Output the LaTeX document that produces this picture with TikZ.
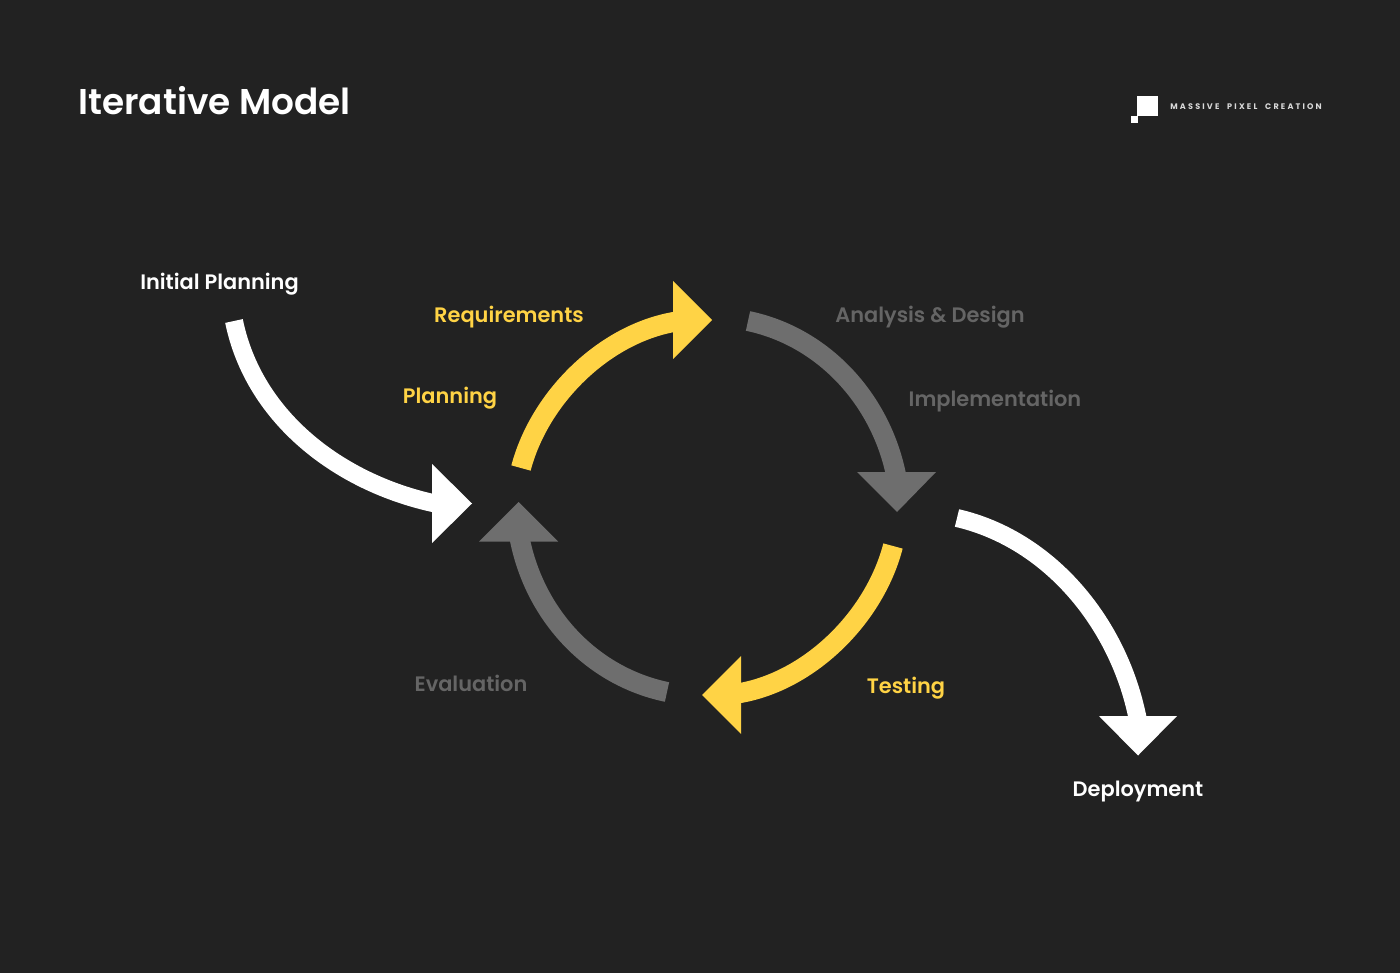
\documentclass[tikz,border=0pt]{standalone}
\usepackage{fontspec}
\setmainfont{Poppins SemiBold}
\newfontfamily\logofont[LetterSpace=27,WordSpace=2]{Poppins Bold}
\usepackage{xcolor}
\definecolor{bgdark}{HTML}{222222}
\definecolor{stepyellow}{HTML}{FFD345}
\definecolor{stepgray}{HTML}{6E6E6E}
\definecolor{labelgray}{HTML}{656565}
\tikzset{
    shaft/.style={line width=0.4cm},
    whiteshaft/.style={line width=0.36cm, white},
    label/.style={inner sep=0pt, font=\fontsize{11.9}{14}\selectfont},
}

\begin{document}
\begin{tikzpicture}[x=0.02cm, y=-0.02cm]

        % 1. background
        \fill[bgdark] (0,0) rectangle (1400,973);

        % 2. title and logo
        \node[inner sep=0pt, white, font=\fontsize{20.4}{24}\selectfont] (title) at (214.5,100.7) {Iterative Model};
        \fill[white] (1137,96) rectangle (1158,116);
        \fill[white] (1131,116) rectangle (1138,123);
        \node[inner sep=0pt, anchor=west, white!85!black, font=\fontsize{4.6}{6}\logofont] (logo) at (1170,106.7) {MASSIVE PIXEL CREATION};

        % 3. end points of the arrows
        \coordinate (A_start) at (234,321);   \coordinate (A_end) at (440,504.5);
        \coordinate (B_start) at (521,468);   \coordinate (B_end) at (680,321);
        \coordinate (C_start) at (748,321);   \coordinate (C_end) at (897,480);
        \coordinate (D_start) at (893,546);   \coordinate (D_end) at (734,694);
        \coordinate (E_start) at (667,692);   \coordinate (E_end) at (519,535);
        \coordinate (F_start) at (957,518);   \coordinate (F_end) at (1138.5,723);

        % 4. white arrows
        \draw[whiteshaft] (A_start) .. controls (254,419) and (342,485) .. (A_end);
        \fill[white] (432,464) -- (472,503.5) -- (432,543) -- cycle;
        \draw[whiteshaft] (F_start) .. controls (1052,540) and (1121,627) .. (F_end);
        \fill[white] (1099,716) -- (1177,716) -- (1138,755.5) -- cycle;

        % 5. yellow arrows
        \draw[shaft, stepyellow] (B_start) .. controls (540,396) and (607,331) .. (B_end);
        \fill[stepyellow] (673,281) -- (712,320) -- (673,359) -- cycle;
        \draw[shaft, stepyellow] (D_start) .. controls (874,619) and (807,684) .. (D_end);
        \fill[stepyellow] (741,656) -- (702,695) -- (741,734) -- cycle;

        % 6. gray arrows
        \draw[shaft, stepgray] (C_start) .. controls (825,337) and (883,402) .. (C_end);
        \fill[stepgray] (857,472) -- (936,472) -- (897,512) -- cycle;
        \draw[shaft, stepgray] (E_start) .. controls (590,676) and (533,613) .. (E_end);
        \fill[stepgray] (479,541.5) -- (558,541.5) -- (518.5,502) -- cycle;

        % 7. labels
        \foreach \x/\y/\col/\name/\txt in {
            219.5/284/white/initial/Initial Planning,
            509/317/stepyellow/requirements/Requirements,
            450/398/stepyellow/planning/Planning,
            930/317/labelgray/analysis/Analysis \& Design,
            995/401/labelgray/implementation/Implementation,
            471/683.5/labelgray/evaluation/Evaluation,
            906/688/stepyellow/testing/Testing,
            1138/791.5/white/deployment/Deployment} {
            \node[label, text=\col] (\name) at (\x,\y) {\txt};
        }

    \end{tikzpicture}
\end{document}
